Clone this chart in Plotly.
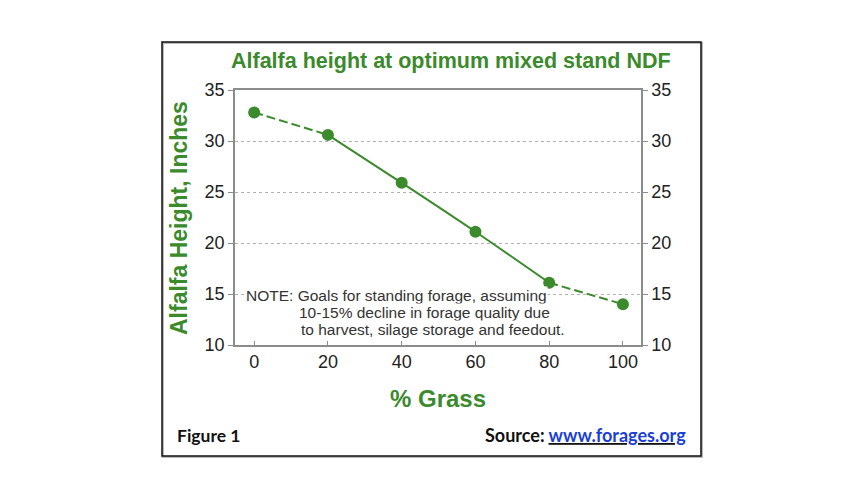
import plotly.graph_objects as go

# -------------------------
# Data
# -------------------------
grass_pct = [0, 20, 40, 60, 80, 100]
alfalfa_height = [32.8, 30.6, 25.9, 21.1, 16.1, 14.0]

x_ticks = [0, 20, 40, 60, 80, 100]
y_ticks = [10, 15, 20, 25, 30, 35]

note_lines = [
    "NOTE: Goals for standing forage, assuming",
    "10-15% decline in forage quality due",
    "to harvest, silage storage and feedout.",
]

GREEN = "#3b8a2c"
AXIS_GRAY = "#8c8c8c"
FONT = "Liberation Sans, Arial, sans-serif"

# the page body has an 8px margin, so the figure is drawn 8px smaller
OFF = 8
W, H = 864 - OFF, 504 - OFF
# plot area in reference-pixel coordinates
L, R, T, B = 235, 641, 90, 345


def px(x):
    return (x - L) / (R - L)


def py(y):
    return (B - y) / (B - T)


fig = go.Figure()

# dashed ends, solid curved middle
fig.add_trace(go.Scatter(x=grass_pct[0:2], y=alfalfa_height[0:2], mode="lines",
                         line=dict(color=GREEN, width=2, dash="9px,4px"), hoverinfo="skip"))
fig.add_trace(go.Scatter(x=grass_pct[1:5], y=alfalfa_height[1:5], mode="lines",
                         line=dict(color=GREEN, width=2, shape="spline"), hoverinfo="skip"))
fig.add_trace(go.Scatter(x=grass_pct[4:6], y=alfalfa_height[4:6], mode="lines",
                         line=dict(color=GREEN, width=2, dash="9px,4px"), hoverinfo="skip"))
fig.add_trace(go.Scatter(x=grass_pct, y=alfalfa_height, mode="markers",
                         marker=dict(color=GREEN, size=12)))
# ghost trace so the right axis is drawn
fig.add_trace(go.Scatter(x=grass_pct, y=alfalfa_height, yaxis="y2", mode="markers",
                         marker=dict(opacity=0), hoverinfo="skip"))

tick_font = dict(size=18, color="#222222")

fig.update_layout(
    width=W, height=H,
    margin=dict(l=L - OFF, r=864 - R, t=T - OFF, b=504 - B),
    paper_bgcolor="white", plot_bgcolor="white",
    showlegend=False,
    font=dict(family=FONT, size=17, color="#222222"),
    xaxis=dict(
        range=[-5.2, 104.9], tickvals=x_ticks, showgrid=False, zeroline=False,
        showline=True, linecolor=AXIS_GRAY, linewidth=1.5, mirror=True,
        ticks="inside", ticklen=4, tickcolor=AXIS_GRAY,
        tickfont=tick_font,
    ),
    yaxis=dict(
        range=[10, 35], tickvals=y_ticks, showgrid=True, gridcolor="#b0b0b0",
        griddash="dot", gridwidth=1, zeroline=False,
        showline=True, linecolor=AXIS_GRAY, linewidth=1.5,
        ticks="outside", ticklen=5, tickcolor=AXIS_GRAY,
        tickfont=tick_font,
    ),
    yaxis2=dict(
        range=[10, 35], tickvals=y_ticks, overlaying="y", side="right",
        showgrid=False, zeroline=False,
        showline=True, linecolor=AXIS_GRAY, linewidth=1.5,
        ticks="outside", ticklen=5, tickcolor=AXIS_GRAY,
        tickfont=tick_font,
    ),
)

ann = []
ann.append(dict(text="<b>Alfalfa height at optimum mixed stand NDF</b>",
                x=px(451), y=py(61), font=dict(size=21.5, color=GREEN)))
ann.append(dict(text="<b>Alfalfa Height, Inches</b>", textangle=-90,
                x=px(179), y=py(218), font=dict(size=23, color=GREEN)))
ann.append(dict(text="<b>% Grass</b>",
                x=px(438), y=py(398), font=dict(size=24, color=GREEN)))

note_x = [245, 298, 300]
note_y = [295, 312, 329]
for line, nx, ny in zip(note_lines, note_x, note_y):
    ann.append(dict(text=line, x=px(nx), y=py(ny), xanchor="left",
                    font=dict(size=15.5, color="#333333"),
                    bgcolor="white", borderpad=0))

ann.append(dict(text="<b>Figure 1</b>", x=px(175), y=py(435), xanchor="left",
                font=dict(family="Lato, sans-serif", size=17.5, color="#111111")))
ann.append(dict(text="<b>Source: </b><b><u><span style='color:#1a3fd6'>www.forages.org</span></u></b>",
                x=px(688), y=py(435), xanchor="right",
                font=dict(family="Lato, sans-serif", size=18, color="#111111")))

for a in ann:
    a.setdefault("xanchor", "center")
    a.update(xref="paper", yref="paper", yanchor="middle", showarrow=False)
fig.update_layout(annotations=ann)

# outer frame
fig.add_shape(type="rect", xref="paper", yref="paper",
              x0=px(163), x1=px(702), y0=py(457), y1=py(43),
              line=dict(color="#bbbbbb", width=2))
fig.add_shape(type="rect", xref="paper", yref="paper",
              x0=px(162), x1=px(701), y0=py(456), y1=py(42),
              line=dict(color="#111111", width=1.5))

fig.write_html("out.html")
